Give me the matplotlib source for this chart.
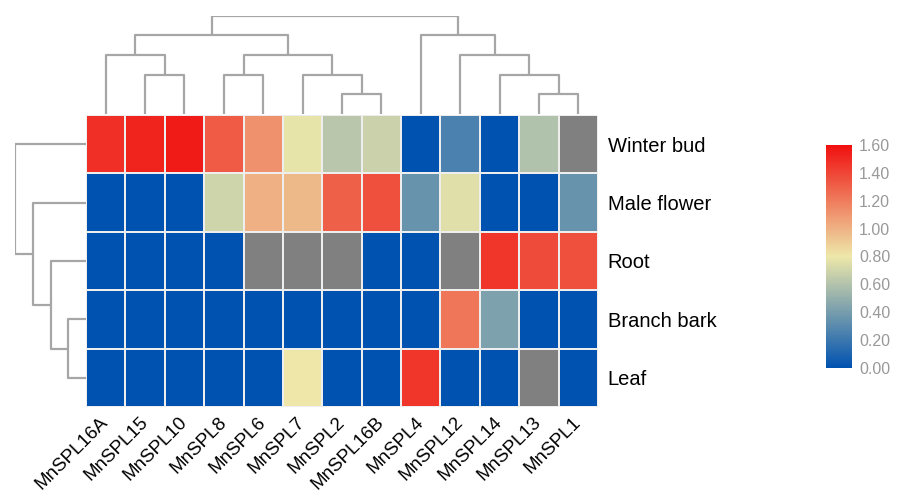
import numpy as np
import matplotlib.pyplot as plt
from matplotlib.colors import LinearSegmentedColormap

# Data (order as displayed after clustering)
genes = ['MnSPL16A', 'MnSPL15', 'MnSPL10', 'MnSPL8', 'MnSPL6', 'MnSPL7', 'MnSPL2',
         'MnSPL16B', 'MnSPL4', 'MnSPL12', 'MnSPL14', 'MnSPL13', 'MnSPL1']
tissues = ['Winter bud', 'Male flower', 'Root', 'Branch bark', 'Leaf']
nan = np.nan
winter_bud = [1.48, 1.53, 1.56, 1.32, 1.12, 0.78, 0.62, 0.68, 0.00, 0.25, 0.00, 0.60, nan]
male_flower = [0.00, 0.00, 0.00, 0.70, 1.00, 0.97, 1.30, 1.36, 0.35, 0.75, 0.00, 0.00, 0.35]
root = [0.00, 0.00, 0.00, 0.00, nan, nan, nan, 0.00, 0.00, nan, 1.46, 1.38, 1.36]
branch_bark = [0.00, 0.00, 0.00, 0.00, 0.00, 0.00, 0.00, 0.00, 0.00, 1.22, 0.42, 0.00, 0.00]
leaf = [0.00, 0.00, 0.00, 0.00, 0.00, 0.80, 0.00, 0.00, 1.46, 0.00, 0.00, nan, 0.00]

# Dendrograms: (height, left, right)
col_tree = (5,
            (4,
             (3, 'MnSPL16A', (2, 'MnSPL15', 'MnSPL10')),
             (3, (2, 'MnSPL8', 'MnSPL6'), (2, 'MnSPL7', (1, 'MnSPL2', 'MnSPL16B')))),
            (4, 'MnSPL4', (3, 'MnSPL12', (2, 'MnSPL14', (1, 'MnSPL13', 'MnSPL1')))))
row_tree = (4, 'Winter bud', (3, 'Male flower', (2, 'Root', (1, 'Branch bark', 'Leaf'))))

data = np.array([winter_bud, male_flower, root, branch_bark, leaf])

cmap = LinearSegmentedColormap.from_list('exp', ['#0052B0', '#EEE8AA', '#F01010'])
cmap.set_bad('#808080')

fig = plt.figure(figsize=(8.97, 4.97), dpi=100)

W, H = 897, 497
def box(x0, y0, x1, y1):
    return [x0 / W, 1 - y1 / H, (x1 - x0) / W, (y1 - y0) / H]

ax = fig.add_axes(box(86, 115, 598, 407))
mesh = ax.pcolormesh(np.ma.masked_invalid(data), cmap=cmap, vmin=0, vmax=1.6,
                     edgecolors='#eeeeee', linewidth=1.2)
ax.set_xlim(0, len(genes))
ax.set_ylim(len(tissues), 0)
for s in ax.spines.values():
    s.set_visible(False)
ax.yaxis.tick_right()
ax.set_yticks(np.arange(len(tissues)) + 0.5)
ax.set_yticklabels(tissues, fontsize=14.5, family='Liberation Sans')
ax.set_xticks(np.arange(len(genes)) + 0.5)
ax.set_xticklabels(genes, fontsize=13.5, family='Liberation Sans', rotation=45,
                   ha='right', va='center', rotation_mode='anchor')
ax.tick_params(length=0, pad=7)
ax.tick_params(axis='x', pad=9)


def draw_tree(axd, node, order, orient):
    if isinstance(node, str):
        return order.index(node) + 0.5, 0
    h, left, right = node
    p1, h1 = draw_tree(axd, left, order, orient)
    p2, h2 = draw_tree(axd, right, order, orient)
    pos = [p1, p1, p2, p2]
    hts = [h1, h, h, h2]
    if orient == 'top':
        axd.plot(pos, hts, color='#a6a6a6', lw=1.6, solid_capstyle='butt')
    else:
        axd.plot(hts, pos, color='#a6a6a6', lw=1.6, solid_capstyle='butt')
    return (p1 + p2) / 2, h


axc = fig.add_axes(box(86, 15.7, 598, 114))
draw_tree(axc, col_tree, genes, 'top')
axc.set_xlim(0, len(genes))
axc.set_ylim(0, 5)
axc.axis('off')

axr = fig.add_axes(box(15, 115, 86, 407))
draw_tree(axr, row_tree, tissues, 'left')
axr.set_ylim(len(tissues), 0)
axr.set_xlim(4, 0)
axr.axis('off')

cax = fig.add_axes(box(826, 145, 852, 368))
cb = fig.colorbar(mesh, cax=cax, ticks=np.arange(0, 1.61, 0.2))
cb.outline.set_visible(False)
cb.ax.set_yticklabels(['%.2f' % t for t in np.arange(0, 1.61, 0.2)],
                      fontsize=11.5, color='#999999', family='Liberation Sans')
cb.ax.tick_params(length=0, pad=5)

fig.savefig('out.png', dpi=100)
